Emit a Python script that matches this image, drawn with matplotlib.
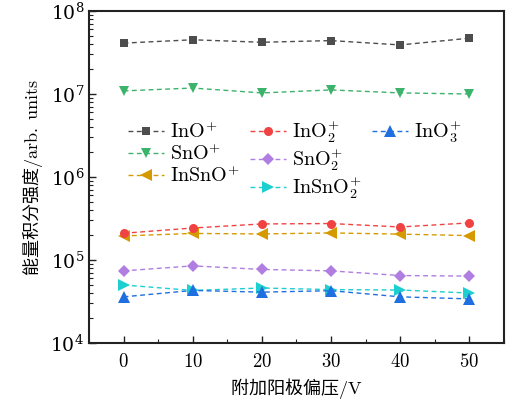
import matplotlib
matplotlib.use("Agg")
import matplotlib.pyplot as plt
from matplotlib.lines import Line2D
from matplotlib.ticker import FuncFormatter, MultipleLocator, LogLocator

plt.rcParams['mathtext.fontset'] = 'cm'
plt.rcParams['font.family'] = ['DejaVu Serif']

bias = [0, 10, 20, 30, 40, 50]

series_names = [r'$\mathrm{InO^{+}}$', r'$\mathrm{SnO^{+}}$', r'$\mathrm{InSnO^{+}}$',
                r'$\mathrm{InO_2^{+}}$', r'$\mathrm{SnO_2^{+}}$', r'$\mathrm{InSnO_2^{+}}$',
                r'$\mathrm{InO_3^{+}}$']

ino = [4.1e7, 4.5e7, 4.2e7, 4.4e7, 3.9e7, 4.7e7]
sno = [1.09e7, 1.18e7, 1.03e7, 1.12e7, 1.03e7, 1.0e7]
insno = [1.95e5, 2.09e5, 2.06e5, 2.12e5, 2.05e5, 1.97e5]
ino2 = [2.1e5, 2.43e5, 2.72e5, 2.75e5, 2.5e5, 2.8e5]
sno2 = [7.4e4, 8.5e4, 7.7e4, 7.4e4, 6.5e4, 6.4e4]
insno2 = [5.0e4, 4.3e4, 4.6e4, 4.4e4, 4.35e4, 4.0e4]
ino3 = [3.6e4, 4.3e4, 4.1e4, 4.27e4, 3.6e4, 3.4e4]

values = [ino, sno, insno, ino2, sno2, insno2, ino3]
colors = ['#4d4d4d', '#3cb36a', '#d49a00', '#f04242', '#b07de0', '#1ecfcf', '#1f6fe0']
markers = ['s', 'v', '<', 'o', 'D', '>', '^']
msizes = [5.5, 7.5, 8, 6.5, 6, 8, 8]

fig = plt.figure(figsize=(5.10, 4.01), dpi=100)
ax = fig.add_axes([0.1745, 0.1446, 0.8135, 0.828])

handles = []
for name, vals, c, m, ms in zip(series_names, values, colors, markers, msizes):
    h, = ax.plot(bias, vals, linestyle=(0, (3.5, 2.5)), lw=1.0, color=c,
                 marker=m, markersize=ms, markeredgewidth=0, label=name)
    handles.append(h)

ax.set_yscale('log')
ax.set_ylim(1e4, 1e8)
ax.set_xlim(-5, 55)
ax.xaxis.set_major_locator(MultipleLocator(10))
ax.xaxis.set_minor_locator(MultipleLocator(5))
ax.xaxis.set_major_formatter(FuncFormatter(lambda v, p: f'${v:g}$'))
ax.yaxis.set_major_locator(LogLocator(base=10, numticks=10))
ax.yaxis.set_minor_locator(LogLocator(base=10, subs=range(2, 10), numticks=50))

ax.tick_params(which='both', direction='in', top=False, right=False, labelsize=13.5, color='#222222')
ax.tick_params(which='major', length=5, width=1.0)
ax.tick_params(which='minor', length=3, width=0.8)
ax.tick_params(axis='x', which='major', pad=7)
for s in ax.spines.values():
    s.set_linewidth(1.5)
    s.set_color('#222222')

ax.set_xlabel('附加阳极偏压' + r'$\mathrm{/V}$', fontsize=13,
              family=['Noto Sans CJK SC', 'DejaVu Sans'], labelpad=4)
ax.set_ylabel('能量积分强度' + r'$\mathrm{/arb.\ units}$', fontsize=13,
              family=['Noto Sans CJK SC', 'DejaVu Sans'], labelpad=4)

# three columns: 3 + 3 + 1 entries, padded with blank handles
blank = Line2D([], [], linestyle='none', marker=None)
leg_handles = handles + [blank, blank]
leg_labels = series_names + ['', '']
ax.legend(leg_handles, leg_labels, ncol=3, frameon=False, fontsize=14.5, loc='upper left',
          bbox_to_anchor=(0.075, 0.70), handlelength=1.8, handletextpad=0.3,
          columnspacing=0.5, labelspacing=0.05, borderaxespad=0)

fig.savefig('out.png', dpi=100)
